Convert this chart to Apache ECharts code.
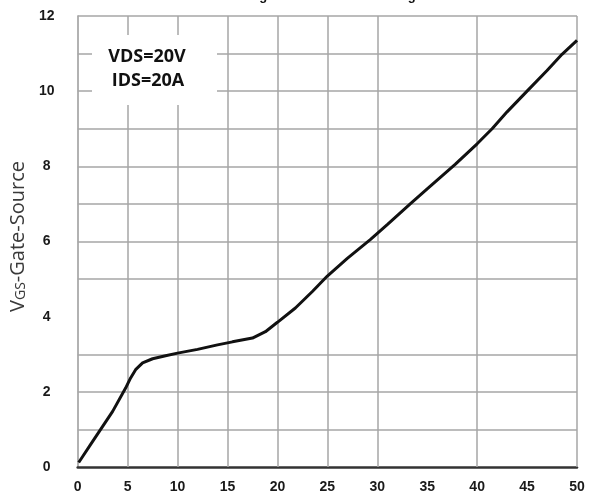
<!DOCTYPE html>
<html>
<head>
<meta charset="utf-8">
<script src="https://cdn.jsdelivr.net/npm/echarts@6/dist/echarts.min.js"></script>
<style>
  html, body { margin: 0; padding: 0; background: #fff; }
  #chart { width: 596px; height: 495px; }
</style>
</head>
<body>
<div id="chart"></div>
<script>
// Gate charge (nC) and gate-source voltage (V) along the measured curve
const qg  = [0.1, 0.5, 1.3, 2.3, 3.5, 4.8, 5.3, 5.8, 6.5, 7.5, 8.8, 10, 12, 14, 15.5, 17.5, 18.8, 20, 21.8, 23.5, 25, 27, 29.3, 31, 33.3, 35, 37.8, 40, 41.5, 43, 45, 47, 48.5, 50];
const vgs = [0.12, 0.28, 0.6, 1.0, 1.48, 2.1, 2.37, 2.59, 2.77, 2.88, 2.96, 3.03, 3.13, 3.25, 3.33, 3.43, 3.6, 3.85, 4.23, 4.67, 5.08, 5.55, 6.05, 6.45, 7.0, 7.4, 8.05, 8.6, 9.0, 9.45, 10.0, 10.55, 10.98, 11.35];

// Grid lines printed on the chart
const yGridLines = [1, 2, 3, 5, 6, 7, 8, 9, 10, 11, 12];
const xGridLines = [5, 10, 15, 20, 25, 30, 40, 50];

// Test conditions
const conditions = ['VDS=20V', 'IDS=20A'];
const titleText = 'Gate Charge vs Gate-Source Voltage';

const chart = echarts.init(document.getElementById('chart'), null, { renderer: 'canvas' });

const tickFont = { fontFamily: '"Liberation Sans", Arial, sans-serif', fontWeight: 'bold', fontSize: 14, color: '#1a1a1a' };

chart.setOption({
  animation: false,
  backgroundColor: '#fff',
  grid: { left: 77, right: 19, top: 16, bottom: 28 },
  xAxis: {
    type: 'value', min: 0, max: 50, interval: 5,
    axisLine: { show: true, onZero: false, lineStyle: { color: '#333', width: 2.5 } },
    axisTick: { show: false },
    splitLine: { show: false },
    axisLabel: Object.assign({ margin: 13 }, tickFont)
  },
  yAxis: {
    type: 'value', min: 0, max: 12, interval: 2,
    name: '{v|V}{gs|GS}{rest|-Gate-Source}',
    nameLocation: 'middle', nameRotate: 90, nameGap: 47,
    nameTextStyle: {
      padding: [0, 0, 0, 10],
      rich: {
        v:    { fontFamily: '"Open Sans", sans-serif', fontSize: 20, color: '#3a3a3a' },
        gs:   { fontFamily: '"Open Sans", sans-serif', fontSize: 14, color: '#3a3a3a', padding: [6, 0, 0, 0] },
        rest: { fontFamily: '"Open Sans", sans-serif', fontSize: 20, color: '#3a3a3a' }
      }
    },
    axisLine: { show: true, lineStyle: { color: '#999', width: 1.5 } },
    axisTick: { show: false },
    splitLine: { show: false },
    axisLabel: Object.assign({ margin: 31, align: 'center' }, tickFont)
  },
  series: [{
    type: 'line',
    data: qg.map((q, i) => [q, vgs[i]]),
    showSymbol: false,
    z: 3,
    lineStyle: { color: '#111', width: 3 },
    markLine: {
      silent: true,
      z: 1,
      symbol: ['none', 'none'],
      label: { show: false },
      lineStyle: { type: 'solid', color: '#a6a6a6', width: 1.5 },
      data: yGridLines.map(v => ({ yAxis: v })).concat(xGridLines.map(v => ({ xAxis: v })))
    }
  }],
  graphic: [
    { type: 'rect', left: 92, top: 35, z: 10, shape: { width: 125, height: 70 }, style: { fill: '#fff' } },
    { type: 'text', x: 147, y: 57, z: 11, style: { text: conditions[0], align: 'center', verticalAlign: 'middle', font: 'bold 18px "Open Sans", sans-serif', fill: '#111' } },
    { type: 'text', x: 148, y: 81, z: 11, style: { text: conditions[1], align: 'center', verticalAlign: 'middle', font: 'bold 18px "Open Sans", sans-serif', fill: '#111' } },
    { type: 'text', x: 310, y: 3, z: 11, style: { text: titleText, align: 'center', verticalAlign: 'bottom', font: 'bold 13px "Liberation Sans", Arial, sans-serif', fill: '#111' } }
  ]
});
</script>
</body>
</html>
